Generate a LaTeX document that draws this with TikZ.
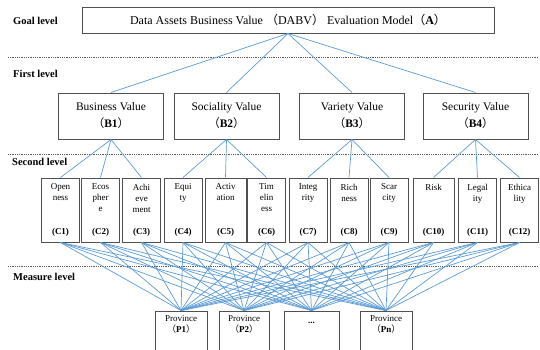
\documentclass[tikz,border=0pt]{standalone}
\usepackage{fontspec}
\setmainfont{Liberation Serif}
\newfontfamily\cjk{Noto Sans CJK SC}
\usepackage{tikz}
\usepackage{xcolor}

\definecolor{lineblue}{RGB}{91,155,213}
\definecolor{boxgray}{RGB}{80,80,80}
\definecolor{dotgray}{RGB}{90,90,90}

\newcommand{\fwl}{{\cjk （}}
\newcommand{\fwr}{{\cjk ）}}
\newcommand{\ctext}[2]{\parbox[c][52pt][t]{38pt}{\centering #1\par\vfill\textbf{(#2)}}}
\newcommand{\ptext}[1]{\parbox[c][40pt][t]{50pt}{\centering #1}}

\begin{document}
\begin{tikzpicture}[x=1pt,y=-1pt,
    goalbox/.style={draw=boxgray, line width=1pt, minimum width=412, minimum height=26, inner sep=0pt, font=\fontsize{12}{14}\selectfont},
    bbox/.style={draw=boxgray, line width=1pt, minimum width=105, minimum height=46, inner sep=0pt, align=center, font=\fontsize{11.5}{14}\selectfont},
    cbox/.style={draw=boxgray, line width=1pt, minimum width=38, minimum height=64, inner sep=0pt, font=\fontsize{9}{11}\selectfont},
    pbox/.style={draw=boxgray, line width=1pt, minimum width=52, minimum height=50, inner sep=0pt, font=\fontsize{9}{11}\selectfont},
    levellabel/.style={anchor=west, inner sep=0pt, font=\fontsize{10.5}{12}\selectfont\bfseries}]
    \clip (0,0) rectangle (540,349);

    \node[levellabel] (L0) at (13,21) {Goal level};
    \node[levellabel] (L1) at (13,74) {First level};
    \node[levellabel] (L2) at (12,162) {Second level};
    \node[levellabel] (L3) at (13,277) {Measure level};

    \node[goalbox] (A) at (288,20) {Data Assets Business Value \fwl DABV\fwr\ Evaluation Model\fwl\textbf{A}\fwr};

    \node[bbox] (B1) at (111,116) {Business Value\\[3pt]\fwl\textbf{B1}\fwr};
    \node[bbox] (B2) at (226.5,116) {Sociality Value\\[3pt]\fwl\textbf{B2}\fwr};
    \node[bbox] (B3) at (352,116) {Variety Value\\[3pt]\fwl\textbf{B3}\fwr};
    \node[bbox] (B4) at (475.5,116) {Security Value\\[3pt]\fwl\textbf{B4}\fwr};

    \node[cbox] (C1) at (60.5,210) {\ctext{Open\\ness}{C1}};
    \node[cbox] (C2) at (100.5,210) {\ctext{Ecos\\pher\\e}{C2}};
    \node[cbox] (C3) at (141.5,210) {\ctext{Achi\\eve\\ment}{C3}};
    \node[cbox] (C4) at (183,210) {\ctext{Equi\\ty}{C4}};
    \node[cbox, minimum width=41] (C5) at (225.5,210) {\ctext{Activ\\ation}{C5}};
    \node[cbox] (C6) at (266.5,210) {\ctext{Tim\\elin\\ess}{C6}};
    \node[cbox] (C7) at (308,210) {\ctext{Integ\\rity}{C7}};
    \node[cbox] (C8) at (349,210) {\ctext{Rich\\ness}{C8}};
    \node[cbox] (C9) at (389,210) {\ctext{Scar\\city}{C9}};
    \node[cbox, minimum width=41] (C10) at (433.5,210) {\ctext{Risk}{C10}};
    \node[cbox] (C11) at (477.5,210) {\ctext{Legal\\ity}{C11}};
    \node[cbox] (C12) at (519.5,210) {\ctext{Ethica\\lity}{C12}};

    \node[pbox] (P1) at (181,336) {\ptext{Province\\\fwl\textbf{P1}\fwr}};
    \node[pbox, minimum width=50] (P2) at (244,336) {\ptext{Province\\\fwl\textbf{P2}\fwr}};
    \node[pbox, minimum width=55] (Pd) at (311.5,336) {\ptext{\vspace*{6pt}\textbf{...}}};
    \node[pbox] (Pn) at (386,336) {\ptext{Province\\\fwl\textbf{Pn}\fwr}};

    \tikzset{levelline/.style={dotgray, densely dotted, line width=0.8pt}}
    \tikzset{link/.style={lineblue, line width=0.7pt}}

    \draw[levelline] (8,57) -- (538,57);
    \draw[levelline] (8,154) -- (538,154);
    \draw[levelline] (8,266) -- (538,266);

    \draw[link] (A.south) edge (B1.north) edge (B2.north) edge (B3.north) edge (B4.north);

    \draw[link] (B1.south) edge (C1.north) edge (C2.north) edge (C3.north);
    \draw[link] (B2.south) edge (C4.north) edge (C5.north) edge (C6.north);
    \draw[link] (B3.south) edge (C7.north) edge (C8.north) edge (C9.north);
    \draw[link] (B4.south) edge (C10.north) edge (C11.north) edge (C12.north);

    \draw[link] (C1.south) edge (P1.north) edge (P2.north) edge (Pd.north) edge (Pn.north);
    \draw[link] (C2.south) edge (P1.north) edge (P2.north) edge (Pd.north) edge (Pn.north);
    \draw[link] (C3.south) edge (P1.north) edge (P2.north) edge (Pd.north) edge (Pn.north);
    \draw[link] (C4.south) edge (P1.north) edge (P2.north) edge (Pd.north) edge (Pn.north);
    \draw[link] (C5.south) edge (P1.north) edge (P2.north) edge (Pd.north) edge (Pn.north);
    \draw[link] (C6.south) edge (P1.north) edge (P2.north) edge (Pd.north) edge (Pn.north);
    \draw[link] (C7.south) edge (P1.north) edge (P2.north) edge (Pd.north) edge (Pn.north);
    \draw[link] (C8.south) edge (P1.north) edge (P2.north) edge (Pd.north) edge (Pn.north);
    \draw[link] (C9.south) edge (P1.north) edge (P2.north) edge (Pd.north) edge (Pn.north);
    \draw[link] (C10.south) edge (P1.north) edge (P2.north) edge (Pd.north) edge (Pn.north);
    \draw[link] (C11.south) edge (P1.north) edge (P2.north) edge (Pd.north) edge (Pn.north);
    \draw[link] (C12.south) edge (P1.north) edge (P2.north) edge (Pd.north) edge (Pn.north);

\end{tikzpicture}
\end{document}
